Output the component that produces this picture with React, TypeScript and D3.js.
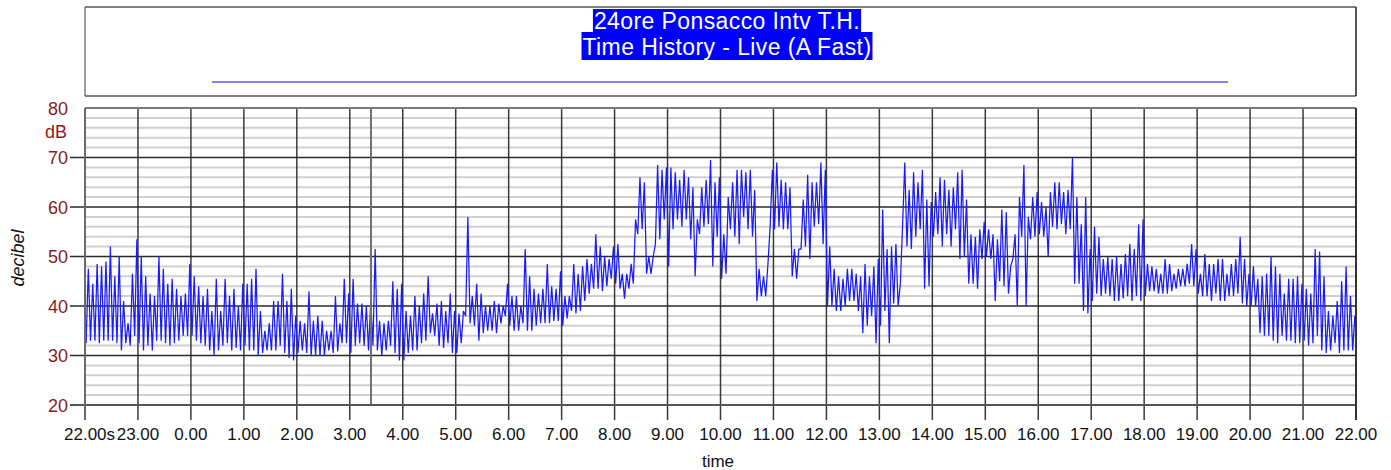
import { useEffect, useRef } from 'react';
import * as d3 from 'd3';

const WIDTH = 1391;
const HEIGHT = 470;

const titleLines = ['24ore Ponsacco Intv T.H.', 'Time History - Live (A Fast)'];
const yTicks = [20, 30, 40, 50, 60, 70, 80];
const yUnit = 'dB';
const yLabel = 'decibel';
const xLabel = 'time';
const hourLabels = [
  '22.00s', '23.00', '0.00', '1.00', '2.00', '3.00', '4.00', '5.00', '6.00', '7.00',
  '8.00', '9.00', '10.00', '11.00', '12.00', '13.00', '14.00', '15.00', '16.00',
  '17.00', '18.00', '19.00', '20.00', '21.00', '22.00',
];
const cursorHour = 5.4; // hours after 22.00

// LAeq fast, 5-minute bins (max / min), one row per hour from 22.00
const binHigh = [
  [47.5, 44.5, 48.5, 48, 49, 52, 46, 50, 41, 36.5, 46.5, 53.5],
  [50, 46, 42.5, 42, 50, 47.5, 44.5, 45.5, 43.5, 42, 42.5, 48.5],
  [46, 44, 42, 43.5, 39, 45.5, 39, 45.5, 42, 43.5, 40, 44.5],
  [44.5, 45.5, 47.5, 39, 35, 36.5, 41, 41, 46.5, 41, 43.5, 38],
  [37, 36.5, 43, 37, 38, 37, 35, 35, 42, 36.5, 45.5, 42.5],
  [45.5, 40.5, 40.5, 40, 41, 51.5, 37, 36.5, 37, 45, 43.5, 44.5],
  [39, 38, 42, 40, 42.5, 46, 38.5, 40.5, 41, 39, 42.5, 39],
  [38.5, 39, 58, 42, 44.5, 42.5, 40, 40, 41, 40.5, 40, 44.5],
  [42, 42, 40, 51.5, 46, 43.5, 42.5, 43.5, 48.5, 44, 43.5, 47],
  [42, 42, 48.5, 46.5, 48, 49.5, 48.5, 54.5, 52, 50, 49.5, 52],
  [52.5, 46.5, 46.5, 48.5, 57.5, 66, 65, 50, 50, 68.5, 67.5, 68],
  [68, 67, 65.5, 67.5, 66, 64, 57.5, 64, 65.5, 69.5, 65, 66],
  [54.5, 62, 65, 67.5, 67.5, 67, 67.5, 63.5, 47.5, 46, 48.5, 67.5],
  [69, 65.5, 65, 64, 51.5, 51.5, 61.5, 66.5, 65, 65, 69, 67.5],
  [52, 47.5, 46, 45.5, 47.5, 47.5, 46.5, 46, 48.5, 46, 48, 49.5],
  [59.5, 51.5, 52, 52.5, 44.5, 69, 63.5, 67, 65, 67.5, 61.5, 61],
  [63, 66, 65.5, 63.5, 64, 67, 67.5, 61.5, 54.5, 54, 55.5, 57],
  [55.5, 54.5, 53.5, 59.5, 59, 48, 54.5, 62, 68.5, 58, 62, 63],
  [61, 60, 63, 65, 65, 63, 63.5, 70, 62, 56.5, 62, 51.5],
  [56, 54, 49.5, 50, 49.5, 50, 48.5, 50.5, 52.5, 51.5, 56.5, 57.5],
  [48.5, 48, 47.5, 46.5, 49.5, 48.5, 46.5, 47.5, 47.5, 48.5, 52.5, 51.5],
  [46.5, 50.5, 48.5, 48.5, 49.5, 49.5, 46.5, 48.5, 49.5, 54, 49.5, 46.5],
  [48, 45.5, 46, 46.5, 50, 48, 46.5, 42.5, 45.5, 45.5, 46, 44.5],
  [43.5, 42.5, 51.5, 51, 46, 39, 38, 41, 45, 48, 42, 38],
];

const binLow = [
  [32.5, 33, 33, 32.5, 33, 33, 33, 32.5, 31, 32.5, 32, 34],
  [32.5, 31, 32, 31, 33, 33, 32.5, 32, 32.5, 33, 34, 34],
  [34, 33, 32.5, 32, 31, 30, 31, 32, 32.5, 31, 31.5, 31],
  [32, 31, 31, 30, 30.5, 31, 31, 31, 32, 30.5, 29.5, 29],
  [30.5, 31, 30.5, 30, 30, 30, 30, 31, 30.5, 30.8, 32.5, 32.5],
  [30.5, 32, 32.5, 32, 31, 32, 31, 30, 31, 32, 30.5, 29],
  [29, 30.5, 31, 31, 32.5, 33, 34.5, 34, 32, 31.5, 32.5, 30.5],
  [30.5, 32.5, 38, 36.5, 36, 33, 34.5, 35, 35, 34.5, 36.5, 38],
  [36, 35, 35, 36.5, 35, 35, 36, 36.5, 36.5, 36.5, 37, 37],
  [36, 37.5, 39, 38.5, 39, 41, 42.5, 43.5, 43.5, 43, 44, 45.5],
  [44.5, 43.5, 41.5, 43.5, 44.5, 54.5, 55.5, 46.5, 46.5, 52.5, 53.5, 57.5],
  [48, 55.5, 57.5, 56, 57.5, 53.5, 46, 54.5, 56, 56.5, 48, 54],
  [45.5, 46.5, 55.5, 54, 52.5, 58, 55.5, 54, 41, 42, 42, 56],
  [55.5, 56, 55.5, 55.5, 46, 45.5, 51.5, 52, 49.5, 56, 56.5, 52.5],
  [40, 40, 39, 39, 40, 41, 41, 39, 34.5, 36, 38, 32.5],
  [36, 39, 32.5, 40.5, 40, 56, 52, 51.5, 54, 55.5, 43.5, 44],
  [54, 54.5, 52, 54.5, 52, 55.5, 49.5, 50, 44.5, 44.5, 43.5, 49.5],
  [50, 49.5, 41, 45, 44, 42.5, 49.5, 40, 54, 40, 53.5, 54],
  [54.5, 54, 50, 56, 55.5, 56.5, 54.5, 55.5, 44.5, 44.5, 39, 38.5],
  [41, 42.5, 42, 42.5, 42, 41, 41, 41.5, 42, 41, 42, 41],
  [42, 43, 43, 42.5, 42.5, 42.5, 43, 43.5, 44, 44, 44.5, 44],
  [42.5, 42, 42, 41, 42.5, 41, 41, 42, 42, 42.5, 40.5, 40],
  [40, 40, 34.5, 34, 34, 33, 32.5, 34, 33, 33, 32.5, 32.5],
  [33, 32, 32.5, 34, 31, 30.5, 31, 32.5, 30.5, 31, 31, 31],
];

const FONT = '"Liberation Sans", Arial, sans-serif';
const AXIS_RED = '#8b1a1a';

function TimeHistoryChart() {
  const svgRef = useRef<SVGSVGElement>(null);

  useEffect(() => {
    if (!svgRef.current) return;
    const svg = d3.select(svgRef.current);
    svg.selectAll('*').remove();

    const plot = { left: 85, right: 1356, top: 108, bottom: 405 };

    const x = d3.scaleLinear().domain([0, 24]).range([plot.left, plot.right]);
    const y = d3.scaleLinear().domain([20, 80]).range([plot.bottom, plot.top]);

    // Title box
    const titleG = svg.append('g');
    titleG.append('rect')
      .attr('x', plot.left).attr('y', 7)
      .attr('width', plot.right - plot.left).attr('height', 89)
      .attr('fill', 'white');
    titleG.append('line').attr('x1', plot.left).attr('x2', plot.right).attr('y1', 7).attr('y2', 7)
      .attr('stroke', '#808080').attr('stroke-width', 2);
    titleG.append('line').attr('x1', plot.left).attr('x2', plot.right).attr('y1', 96).attr('y2', 96)
      .attr('stroke', '#808080').attr('stroke-width', 2);
    titleG.append('line').attr('x1', plot.left).attr('x2', plot.left).attr('y1', 7).attr('y2', 96)
      .attr('stroke', '#404040').attr('stroke-width', 1);
    titleG.append('line').attr('x1', plot.right).attr('x2', plot.right).attr('y1', 7).attr('y2', 96)
      .attr('stroke', '#202020').attr('stroke-width', 1.5);

    const titleCx = 727;
    const baselines = [29, 55];
    const rectBands = [[9, 32], [32, 60]];
    titleLines.forEach((line, i) => {
      const bg = titleG.append('rect').attr('fill', '#0000ff');
      const t = titleG.append('text')
        .attr('x', titleCx).attr('y', baselines[i])
        .attr('text-anchor', 'middle')
        .attr('fill', 'white')
        .style('font-family', FONT)
        .style('font-size', '23px')
        .style('letter-spacing', '0.4px')
        .text(line);
      const bb = (t.node() as SVGTextElement).getBBox();
      bg.attr('x', bb.x - 1).attr('y', rectBands[i][0])
        .attr('width', bb.width + 2).attr('height', rectBands[i][1] - rectBands[i][0]);
    });
    titleG.append('line')
      .attr('x1', 212).attr('x2', 1228).attr('y1', 82).attr('y2', 82)
      .attr('stroke', '#0000ff').attr('stroke-width', 1);

    // Plot background
    svg.append('rect')
      .attr('x', plot.left).attr('y', plot.top)
      .attr('width', plot.right - plot.left).attr('height', plot.bottom - plot.top)
      .attr('fill', 'white');

    // Minor horizontal grid
    const minor = d3.range(22, 80, 2).filter(v => v % 10 !== 0);
    svg.append('g').selectAll('line').data(minor).enter().append('line')
      .attr('x1', plot.left).attr('x2', plot.right)
      .attr('y1', d => y(d)).attr('y2', d => y(d))
      .attr('stroke', '#d0d0d0').attr('stroke-width', 2);

    // Vertical hour grid
    const hours = d3.range(0, 25);
    svg.append('g').selectAll('line').data(hours).enter().append('line')
      .attr('x1', d => x(d)).attr('x2', d => x(d))
      .attr('y1', plot.top).attr('y2', plot.bottom + 15)
      .attr('stroke', '#3a3a3a').attr('stroke-width', 1.5);

    // Major horizontal grid + left ticks
    svg.append('g').selectAll('line').data(yTicks.filter(v => v > 20 && v < 80)).enter().append('line')
      .attr('x1', plot.left - 15).attr('x2', plot.right)
      .attr('y1', d => y(d)).attr('y2', d => y(d))
      .attr('stroke', '#2a2a2a').attr('stroke-width', 1.5);

    // Data
    const points: { t: number; v: number }[] = [];
    binHigh.forEach((row, h) => {
      row.forEach((hi, j) => {
        const i = h * 12 + j;
        points.push({ t: (i + 0.25) / 12, v: binLow[h][j] });
        points.push({ t: (i + 0.75) / 12, v: hi });
      });
    });

    svg.append('defs').append('clipPath').attr('id', 'plot-clip')
      .append('rect')
      .attr('x', plot.left).attr('y', plot.top)
      .attr('width', plot.right - plot.left).attr('height', plot.bottom - plot.top);

    const line = d3.line<{ t: number; v: number }>()
      .x(d => x(d.t))
      .y(d => y(d.v));

    svg.append('path')
      .datum(points)
      .attr('clip-path', 'url(#plot-clip)')
      .attr('fill', 'none')
      .attr('stroke', '#1a1aff')
      .attr('stroke-width', 1.25)
      .attr('stroke-linejoin', 'miter')
      .attr('d', line);

    // Cursor
    svg.append('line')
      .attr('x1', x(cursorHour)).attr('x2', x(cursorHour))
      .attr('y1', plot.top).attr('y2', plot.bottom)
      .attr('stroke', '#707070').attr('stroke-width', 2);

    // Borders
    svg.append('line').attr('x1', plot.left).attr('x2', plot.right).attr('y1', plot.top).attr('y2', plot.top)
      .attr('stroke', '#7a7a7a').attr('stroke-width', 2);
    svg.append('line').attr('x1', plot.left - 15).attr('x2', plot.right).attr('y1', plot.bottom).attr('y2', plot.bottom)
      .attr('stroke', '#555').attr('stroke-width', 2);
    svg.append('line').attr('x1', plot.left).attr('x2', plot.left).attr('y1', plot.top).attr('y2', plot.bottom + 15)
      .attr('stroke', '#6a6a6a').attr('stroke-width', 2);
    svg.append('line').attr('x1', plot.right).attr('x2', plot.right).attr('y1', plot.top).attr('y2', plot.bottom + 15)
      .attr('stroke', '#202020').attr('stroke-width', 1.5);

    // Y tick labels
    svg.append('g').selectAll('text').data(yTicks).enter().append('text')
      .attr('x', 68).attr('y', d => y(d) + 6.5)
      .attr('text-anchor', 'end')
      .attr('fill', AXIS_RED)
      .style('font-family', FONT).style('font-size', '18px')
      .text(d => d);
    svg.append('text')
      .attr('x', 67).attr('y', 138)
      .attr('text-anchor', 'end')
      .attr('fill', AXIS_RED)
      .style('font-family', FONT).style('font-size', '18px')
      .text(yUnit);

    svg.append('text')
      .attr('transform', 'translate(24, 258) rotate(-90)')
      .attr('text-anchor', 'middle')
      .attr('fill', '#111')
      .style('font-family', FONT).style('font-size', '18px').style('font-style', 'italic')
      .text(yLabel);

    // X tick labels (the first one carries a trailing unit, so it is placed from the start)
    const xLabels = svg.append('g').selectAll('text').data(hourLabels).enter().append('text')
      .attr('y', 440)
      .attr('fill', '#111')
      .style('font-family', FONT).style('font-size', '17px')
      .text(d => d);
    xLabels.each(function (d, i) {
      const el = d3.select(this);
      if (i === 0) {
        el.attr('x', x(i) - 21).attr('text-anchor', 'start');
      } else {
        el.attr('x', x(i)).attr('text-anchor', 'middle');
      }
    });

    svg.append('text')
      .attr('x', 718).attr('y', 467)
      .attr('text-anchor', 'middle')
      .attr('fill', '#111')
      .style('font-family', FONT).style('font-size', '17px')
      .text(xLabel);
  }, []);

  return (
    <svg
      ref={svgRef}
      width={WIDTH}
      height={HEIGHT}
      style={{ position: 'absolute', left: 0, top: 0, display: 'block', background: 'white' }}
    />
  );
}

export default function App() {
  return <TimeHistoryChart />;
}
